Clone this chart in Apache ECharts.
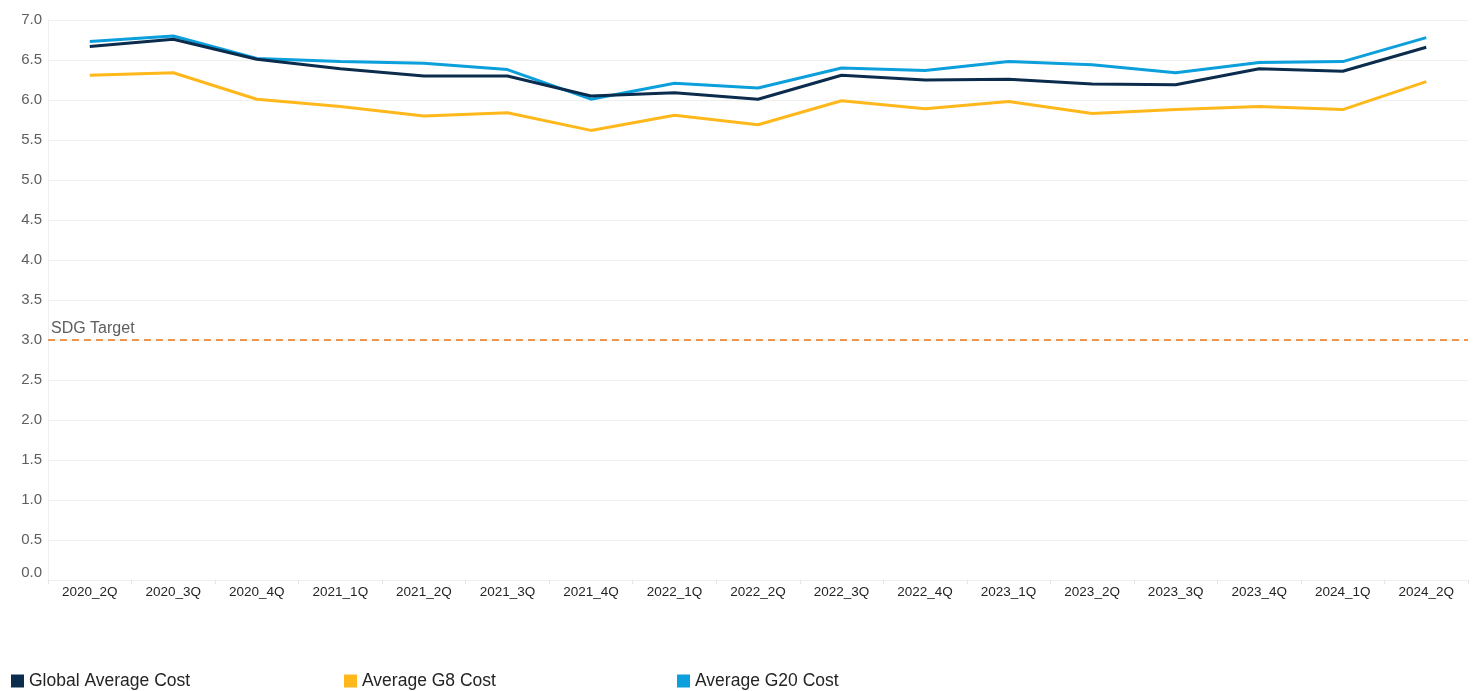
<!DOCTYPE html>
<html>
<head>
<meta charset="utf-8">
<script src="https://cdn.jsdelivr.net/npm/echarts@6/dist/echarts.min.js"></script>
<style>
  html, body { margin: 0; padding: 0; background: #fff; }
  #chart { width: 1479px; height: 691px; }
</style>
</head>
<body>
<div id="chart"></div>
<script>
const quarters = ['2020_2Q', '2020_3Q', '2020_4Q', '2021_1Q', '2021_2Q', '2021_3Q', '2021_4Q', '2022_1Q', '2022_2Q',
    '2022_3Q', '2022_4Q', '2023_1Q', '2023_2Q', '2023_3Q', '2023_4Q', '2024_1Q', '2024_2Q'];
const globalAvg = [6.67, 6.76, 6.51, 6.39, 6.30, 6.30, 6.05, 6.09, 6.01, 6.31, 6.25, 6.26, 6.20, 6.19, 6.39, 6.36, 6.66];
const g8Avg = [6.31, 6.34, 6.01, 5.92, 5.80, 5.84, 5.62, 5.81, 5.69, 5.99, 5.89, 5.98, 5.83, 5.88, 5.92, 5.88, 6.23];
const g20Avg = [6.73, 6.80, 6.52, 6.48, 6.46, 6.38, 6.01, 6.21, 6.15, 6.40, 6.37, 6.48, 6.44, 6.34, 6.47, 6.48, 6.78];
const sdgTarget = 3.0;

const seriesList = [
    { name: 'Global Average Cost', values: globalAvg, theme: '#0b2c4d' },
    { name: 'Average G8 Cost', values: g8Avg, theme: '#ffb81c' },
    { name: 'Average G20 Cost', values: g20Avg, theme: '#0b9fdb' }
];
const legendLefts = [11, 344, 677];

const chart = echarts.init(document.getElementById('chart'));

const option = {
    animation: false,
    textStyle: { fontFamily: 'Liberation Sans, Arial, sans-serif' },
    legend: seriesList.map((item, i) => ({
        data: [item.name],
        left: legendLefts[i],
        bottom: 1,
        padding: 0,
        icon: 'rect',
        itemWidth: 13,
        itemHeight: 13,
        textStyle: { fontSize: 17.5, color: '#252423' }
    })),
    grid: {
        left: 48,
        right: 11,
        top: 20,
        bottom: 111
    },
    xAxis: {
        type: 'category',
        data: quarters,
        boundaryGap: true,
        axisLine: { show: true, lineStyle: { color: '#f0f0f0' } },
        axisTick: { show: true, length: 4, lineStyle: { color: '#e6e6e6' } },
        axisLabel: { color: '#252423', fontSize: 13.5, margin: 5 }
    },
    yAxis: {
        type: 'value',
        min: 0,
        max: 7,
        interval: 0.5,
        axisLine: { show: true, lineStyle: { color: '#f0f0f0' } },
        axisTick: { show: false },
        splitLine: { lineStyle: { color: '#f0f0f0' } },
        axisLabel: {
            color: '#605e5c',
            fontSize: 15,
            margin: 6,
            verticalAlignMinLabel: 'bottom',
            formatter: v => v.toFixed(1)
        }
    },
    series: seriesList.map((item, i) => {
        const s = {
            name: item.name,
            type: 'line',
            data: item.values,
            showSymbol: false,
            symbol: 'none',
            itemStyle: { color: item.theme },
            lineStyle: { color: item.theme, width: 3 },
            z: i === 0 ? 4 : 3
        };
        if (i === 0) {
            s.markLine = {
                silent: true,
                symbol: 'none',
                lineStyle: { color: '#e8761e', type: [7, 5], width: 1.5 },
                label: {
                    show: true,
                    position: 'insideStartTop',
                    formatter: 'SDG Target',
                    color: '#605e5c',
                    fontSize: 16,
                    distance: [3, 3]
                },
                data: [{ yAxis: sdgTarget }]
            };
        }
        return s;
    })
};

chart.setOption(option);
</script>
</body>
</html>
